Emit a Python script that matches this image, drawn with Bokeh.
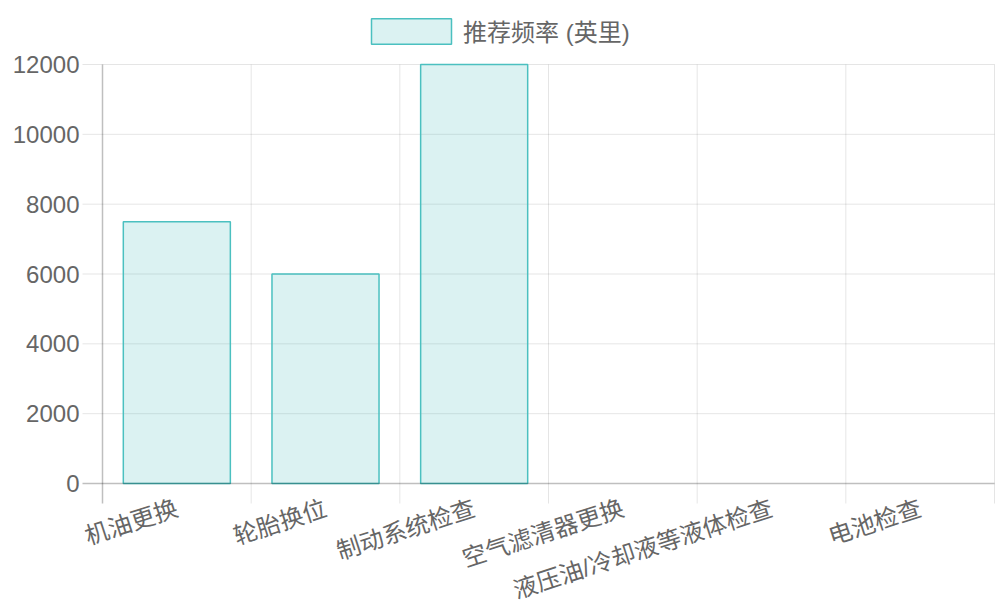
import numpy as np
from bokeh.plotting import figure
from bokeh.models import ColumnDataSource, Legend, LegendItem, Range1d, LabelSet
from bokeh.core.properties import value
from bokeh.embed import file_html
from bokeh.resources import INLINE

# ---- data ----
categories = ["机油更换", "轮胎换位", "制动系统检查", "空气滤清器更换", "液压油/冷却液等液体检查", "电池检查"]
values = [7500, 6000, 12000, np.nan, np.nan, np.nan]
series_name = "推荐频率 (英里)"
y_ticks = [0, 2000, 4000, 6000, 8000, 10000, 12000]
y_tick_labels = [str(v) for v in y_ticks]

FONT = "'Liberation Sans', 'Noto Sans CJK SC'"
TEXT = "#666666"
GRID = "rgba(0,0,0,0.1)"
AXIS = "rgba(0,0,0,0.25)"
TEAL = "rgb(75,192,192)"

W, H = 1000, 600
n = len(categories)
centers = [i + 0.5 for i in range(n)]
bounds = list(range(n + 1))
y_max = max(y_ticks)

# layout in pixels: plot area x 102..994, value 0 at y=483, value y_max at y=64
LEFT_PX, RIGHT_PX, ZERO_PX, TOP_PX, TICK_PX = 102, 994, 483, 64, 20
per_px_y = y_max / (ZERO_PX - TOP_PX)
per_px_x = n / (RIGHT_PX - LEFT_PX)
x_range = Range1d(-LEFT_PX * per_px_x, n + (W - RIGHT_PX) * per_px_x)
y_range = Range1d(-(H - ZERO_PX) * per_px_y, y_max + TOP_PX * per_px_y)
tick_x = TICK_PX * per_px_x
tick_y = TICK_PX * per_px_y

src = ColumnDataSource(dict(x=centers, top=values, cat=categories, zero=[0] * n))
vgrid = ColumnDataSource(dict(b=bounds[1:], lo=[-tick_y] * n, hi=[y_max] * n))
hgrid = ColumnDataSource(dict(y=y_ticks[1:], x0=[-tick_x] * (len(y_ticks) - 1),
                              x1=[n] * (len(y_ticks) - 1)))
ylab = ColumnDataSource(dict(y=y_ticks, x=[0] * len(y_ticks), t=y_tick_labels))

p = figure(width=W, height=H, output_backend="svg", toolbar_location=None,
           x_range=x_range, y_range=y_range, x_axis_type=None, y_axis_type=None,
           min_border=0)
p.outline_line_color = None
p.background_fill_color = "white"
p.border_fill_color = "white"

# grid lines (with their tick extensions outside the plot area)
p.segment(x0="b", y0="lo", x1="b", y1="hi", source=vgrid, line_color=GRID, line_width=1)
p.segment(x0="x0", y0="y", x1="x1", y1="y", source=hgrid, line_color=GRID, line_width=1)

r = p.vbar(x="x", top="top", bottom=0, width=0.72, source=src,
           fill_color=TEAL, fill_alpha=0.2, line_color=TEAL, line_width=1.5)

# axis lines: value axis at x=0, category axis at value 0
p.segment(x0=[0], y0=[-tick_y], x1=[0], y1=[y_max], line_color=AXIS, line_width=1.5)
p.segment(x0=[-tick_x], y0=[0], x1=[n], y1=[0], line_color=AXIS, line_width=1.5)

# value tick labels
p.add_layout(LabelSet(x="x", y="y", text="t", source=ylab, x_offset=-23,
                      text_align="right", text_baseline="middle",
                      text_font=value(FONT), text_font_size="24px", text_color=TEXT))

# rotated category labels
p.add_layout(LabelSet(x="x", y="zero", text="cat", source=src, angle=0.314,
                      x_offset=-4, y_offset=-11, text_align="right", text_baseline="top",
                      text_font=value(FONT), text_font_size="24px", text_color=TEXT))

legend = Legend(items=[LegendItem(label=series_name, renderers=[r])],
                location=(361, H - 48), orientation="horizontal",
                glyph_width=100, glyph_height=32, label_standoff=2,
                padding=0, margin=0, spacing=0,
                border_line_color=None, background_fill_alpha=0,
                label_text_font=FONT, label_text_font_size="24px",
                label_text_color=TEXT, label_height=32)
p.add_layout(legend, "center")

open("out.html", "w").write(file_html(p, INLINE))
